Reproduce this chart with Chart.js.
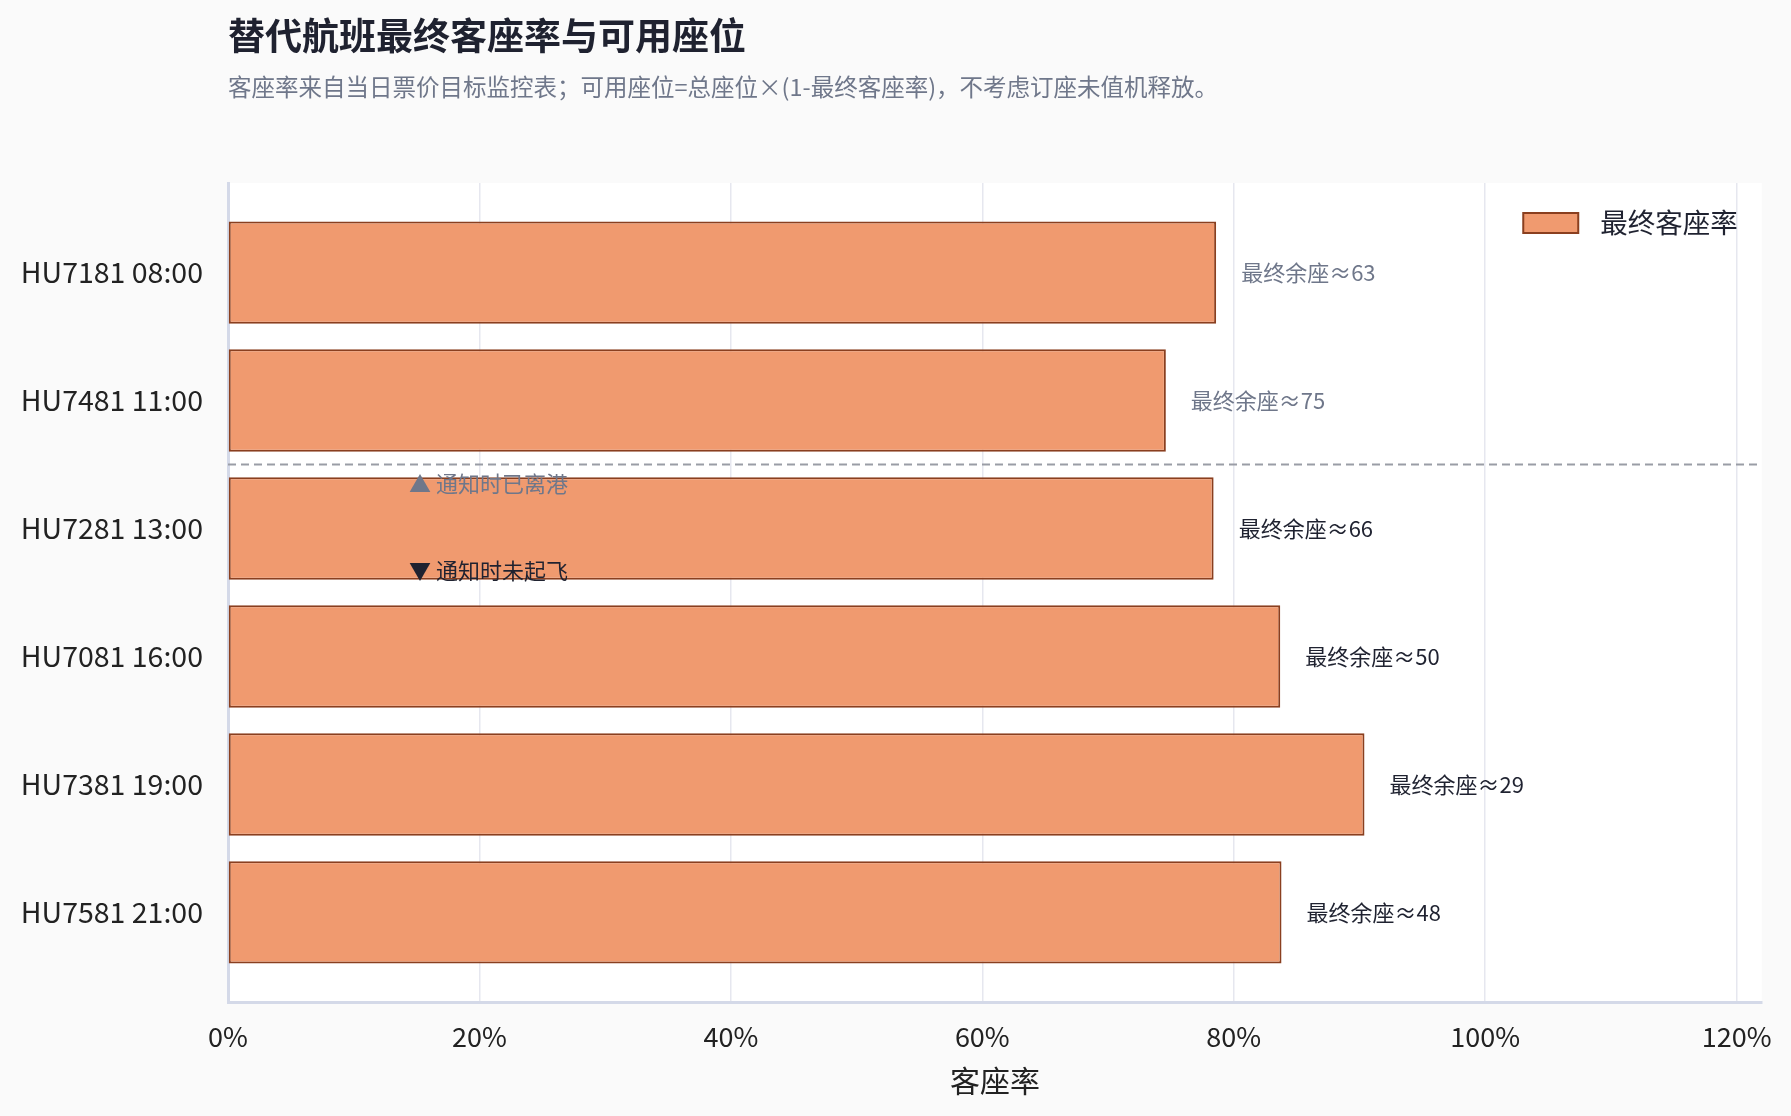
<!DOCTYPE html>
<html>
<head>
<meta charset="utf-8">
<script src="https://cdn.jsdelivr.net/npm/chart.js@4.4.1/dist/chart.umd.min.js"></script>
<style>
  html, body { margin: 0; padding: 0; background: #fafafa; }
  canvas { display: block; }
</style>
</head>
<body>
<canvas id="loadChart" width="1791" height="1116"></canvas>
<script>
// ---- data ----
const flights = ['HU7181 08:00', 'HU7481 11:00', 'HU7281 13:00', 'HU7081 16:00', 'HU7381 19:00', 'HU7581 21:00'];
const loadFactor = [0.786, 0.746, 0.784, 0.837, 0.904, 0.838];
const seatsLeft = [63, 75, 66, 50, 29, 48];
const departed = [true, true, false, false, false, false];
const xTickValues = [0, 0.2, 0.4, 0.6, 0.8, 1.0, 1.2];

const TITLE = '替代航班最终客座率与可用座位';
const SUBTITLE = '客座率来自当日票价目标监控表；可用座位=总座位×(1-最终客座率)，不考虑订座未值机释放。';
const SERIES_NAME = '最终客座率';
const NOTE_UP = '▲ 通知时已离港';
const NOTE_DOWN = '▼ 通知时未起飞';

const FONT = '"Noto Sans CJK SC", "Noto Sans", sans-serif';
const BAR_FILL = '#f09a6f';
const BAR_EDGE = '#8a3f1f';
const DARK = '#1f2230';
const MUTED = '#6f778a';

// page + plot backgrounds
const bgPlugin = {
  id: 'bg',
  beforeDraw(chart) {
    const {ctx, chartArea: a} = chart;
    ctx.save();
    ctx.fillStyle = '#fafafa';
    ctx.fillRect(0, 0, chart.width, chart.height);
    ctx.fillStyle = '#ffffff';
    ctx.fillRect(a.left, a.top, a.right - a.left, a.bottom - a.top);
    ctx.restore();
  }
};

// title + subtitle aligned to plot left edge
const headerPlugin = {
  id: 'header',
  afterDraw(chart) {
    const {ctx, chartArea: a} = chart;
    ctx.save();
    ctx.textAlign = 'left';
    ctx.textBaseline = 'middle';
    ctx.fillStyle = DARK;
    ctx.font = 'bold 37px ' + FONT;
    ctx.fillText(TITLE, a.left, 36);
    ctx.fillStyle = MUTED;
    ctx.font = '23.5px ' + FONT;
    ctx.fillText(SUBTITLE, a.left, 87);
    ctx.restore();
  }
};

// departed / not-departed divider and notes
const dividerPlugin = {
  id: 'divider',
  afterDatasetsDraw(chart) {
    const {ctx, chartArea: a, scales: {x, y}} = chart;
    const yLine = y.getPixelForValue(1.5);
    ctx.save();
    ctx.strokeStyle = '#9a9da6';
    ctx.lineWidth = 2;
    ctx.setLineDash([8, 5]);
    ctx.beginPath();
    ctx.moveTo(a.left, yLine);
    ctx.lineTo(a.right, yLine);
    ctx.stroke();
    ctx.setLineDash([]);
    ctx.font = '22px ' + FONT;
    ctx.textAlign = 'left';
    ctx.textBaseline = 'middle';
    ctx.fillStyle = MUTED;
    ctx.fillText(NOTE_UP, x.getPixelForValue(0.144), y.getPixelForValue(1.65));
    ctx.fillStyle = DARK;
    ctx.fillText(NOTE_DOWN, x.getPixelForValue(0.144), y.getPixelForValue(2.33));
    ctx.restore();
  }
};

// "最终余座≈N" labels at bar ends
const seatLabelPlugin = {
  id: 'seatLabels',
  afterDatasetsDraw(chart) {
    const {ctx} = chart;
    const meta = chart.getDatasetMeta(0);
    ctx.save();
    ctx.font = '22px ' + FONT;
    ctx.textAlign = 'left';
    ctx.textBaseline = 'middle';
    meta.data.forEach((bar, i) => {
      ctx.fillStyle = departed[i] ? MUTED : DARK;
      ctx.fillText('最终余座≈' + seatsLeft[i], bar.x + 25, bar.y);
    });
    ctx.restore();
  }
};

// legend inside plot, top right
const legendPlugin = {
  id: 'innerLegend',
  afterDraw(chart) {
    const {ctx, chartArea: a} = chart;
    ctx.save();
    ctx.font = '27.5px ' + FONT;
    const textRight = a.right - 24;
    const tw = ctx.measureText(SERIES_NAME).width;
    const boxW = 55, boxH = 20;
    const cy = a.top + 40;
    const boxX = textRight - tw - 22 - boxW;
    ctx.fillStyle = BAR_FILL;
    ctx.fillRect(boxX, cy - boxH / 2, boxW, boxH);
    ctx.strokeStyle = BAR_EDGE;
    ctx.lineWidth = 2;
    ctx.strokeRect(boxX, cy - boxH / 2, boxW, boxH);
    ctx.fillStyle = DARK;
    ctx.textAlign = 'right';
    ctx.textBaseline = 'middle';
    ctx.fillText(SERIES_NAME, textRight, cy);
    ctx.restore();
  }
};

const ctx = document.getElementById('loadChart').getContext('2d');
const loadChart = new Chart(ctx, {
  type: 'bar',
  data: {
    datasets: [{
      label: SERIES_NAME,
      data: flights.map((f, i) => ({x: loadFactor[i], y: i})),
      backgroundColor: BAR_FILL,
      borderColor: BAR_EDGE,
      borderWidth: 2,
      borderSkipped: false,
      categoryPercentage: 1.0,
      barPercentage: 0.8
    }]
  },
  plugins: [bgPlugin, headerPlugin, dividerPlugin, seatLabelPlugin, legendPlugin],
  options: {
    responsive: false,
    animation: false,
    devicePixelRatio: 1,
    indexAxis: 'y',
    layout: {
      padding: { top: 183, right: 29, left: 10, bottom: 0 }
    },
    plugins: {
      legend: { display: false },
      title: { display: false },
      tooltip: { enabled: false }
    },
    scales: {
      x: {
        type: 'linear',
        min: 0,
        max: 1.22,
        afterBuildTicks: (axis) => { axis.ticks = xTickValues.map(v => ({value: v})); },
        afterFit: (axis) => { axis.height = 114; },
        grid: { color: '#e6e7ef', lineWidth: 1.5, drawTicks: false },
        border: { display: true, color: '#d4d9e8', width: 3 },
        ticks: {
          padding: 19,
          color: '#222222',
          font: { family: FONT, size: 27 },
          callback: (v) => Math.round(v * 100) + '%'
        },
        title: {
          display: true,
          text: '客座率',
          color: '#222222',
          font: { family: FONT, size: 30 },
          padding: { top: 0, bottom: 17 }
        }
      },
      y: {
        type: 'linear',
        reverse: true,
        offset: false,
        min: -0.7,
        max: 5.7,
        afterBuildTicks: (axis) => { axis.ticks = flights.map((f, i) => ({value: i})); },
        afterFit: (axis) => { axis.width = 218; },
        grid: { display: false, drawTicks: false },
        border: { display: true, color: '#d4d9e8', width: 3 },
        ticks: {
          padding: 25,
          color: '#222222',
          font: { family: FONT, size: 28.5 },
          callback: (v) => flights[v] !== undefined ? flights[v] : ''
        }
      }
    }
  }
});
</script>
</body>
</html>
